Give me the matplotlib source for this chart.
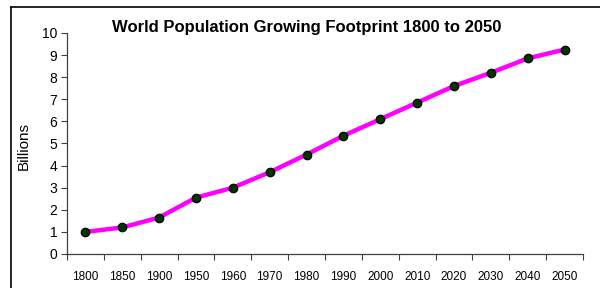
import numpy as np
import matplotlib
matplotlib.use("Agg")
import matplotlib.pyplot as plt
from matplotlib.lines import Line2D

plt.rcParams['font.family'] = ['Liberation Sans', 'DejaVu Sans']

years = ['1800', '1850', '1900', '1950', '1960', '1970', '1980',
         '1990', '2000', '2010', '2020', '2030', '2040', '2050']
billions = [1.0, 1.2, 1.65, 2.55, 3.0, 3.7, 4.5,
            5.35, 6.1, 6.85, 7.6, 8.2, 8.85, 9.25]

fig = plt.figure(figsize=(6, 2.88), dpi=100)
ax = fig.add_axes([0.1117, 0.1181, 0.86, 0.7674])

x = np.arange(len(years))
ax.plot(x, billions, color='#FF00FF', lw=3.2, zorder=2, solid_capstyle='round')
ax.scatter(x, billions, s=38, color='#003300', edgecolor='black', linewidth=0.8, zorder=3)

ax.set_xlim(-0.5, len(years) - 0.5)
ax.set_ylim(0, 10)
ax.set_yticks(range(0, 11))
ax.set_xticks(x)
ax.set_xticklabels(years, fontsize=8.5)
ax.set_xticks(np.arange(-0.5, len(years)), minor=True)
ax.tick_params(axis='x', which='major', length=0, pad=12)
ax.tick_params(axis='x', which='minor', length=4, width=0.8, color='#404040')
ax.tick_params(axis='y', length=4, width=0.8, color='#404040', labelsize=10, pad=3)

for s in ['top', 'right']:
    ax.spines[s].set_visible(False)
for s in ['left', 'bottom']:
    ax.spines[s].set_color('#404040')
    ax.spines[s].set_linewidth(0.9)

ax.set_ylabel('Billions', fontsize=11)
ax.yaxis.set_label_coords(-0.07, 0.49)
fig.text(0.511, 0.905, 'World Population Growing Footprint 1800 to 2050',
         ha='center', va='center', fontsize=12, fontweight='bold')

# chart-area border (top and left edges visible)
fig.add_artist(Line2D([11/600, 11/600], [0, 1 - 7/288], color='black', lw=1.2))
fig.add_artist(Line2D([11/600, 1], [1 - 7/288, 1 - 7/288], color='black', lw=1.2))

fig.savefig('out.png', dpi=100)
